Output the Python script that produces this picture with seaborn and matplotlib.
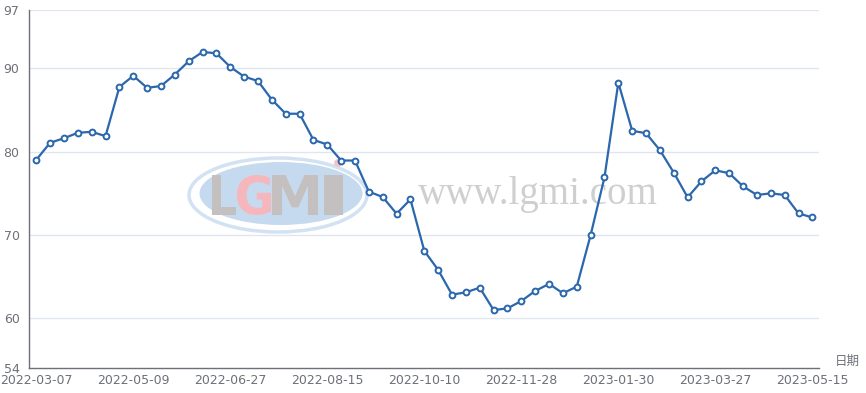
import matplotlib
matplotlib.use("Agg")
import matplotlib.pyplot as plt
from matplotlib.patches import Ellipse, PathPatch, Circle
from matplotlib.textpath import TextPath
from matplotlib.font_manager import FontProperties
from matplotlib.transforms import Affine2D, IdentityTransform
import seaborn as sns
import pandas as pd

values = [79.0, 81.05, 81.6, 82.25, 82.37, 81.85, 87.75, 89.1, 87.65, 87.87,
          89.25, 90.84, 91.96, 91.8, 90.16, 89.0, 88.47, 86.23, 84.54, 84.54,
          81.4, 80.84, 78.92, 78.92, 75.18, 74.54, 72.53, 74.25, 68.07, 65.78,
          62.81, 63.09, 63.65, 60.96, 61.16, 62.05, 63.25, 64.1, 62.98, 63.77,
          69.96, 76.9, 88.28, 82.49, 82.2, 80.16, 77.47, 74.5, 76.42, 77.75,
          77.39, 75.82, 74.78, 74.98, 74.78, 72.57, 72.08]
tick_labels = ["2022-03-07", "2022-05-09", "2022-06-27", "2022-08-15", "2022-10-10",
               "2022-11-28", "2023-01-30", "2023-03-27", "2023-05-15"]
tick_index = [0, 7, 14, 21, 28, 35, 42, 49, 56]
y_ticks = [54, 60, 70, 80, 90, 97]

df = pd.DataFrame({"idx": range(len(values)), "value": values})

sns.set_theme(style="white")
plt.rcParams['font.family'] = ['DejaVu Sans', 'Noto Sans CJK SC']

W, H = 866, 393
fig = plt.figure(figsize=(W / 100, H / 100), dpi=100)
left, right, top, bottom = 29.3, 819.3, 10, 368
ax = fig.add_axes([left / W, 1 - bottom / H, (right - left) / W, (bottom - top) / H])

axis_col = "#6e7079"
grid_col = "#e0e6f1"
line_col = "#2a67ad"

# ---- watermark (drawn under the line), pixel coordinates from top-left ----
def px(x, y):
    return x, H - y

ax.add_patch(Ellipse(px(281, 193.5), 163, 63, transform=IdentityTransform(),
                     facecolor="#c6daef", edgecolor="none", zorder=0.5, clip_on=False))
ax.add_patch(Ellipse(px(278, 195), 178, 74, transform=IdentityTransform(),
                     facecolor="none", edgecolor="#d3e2f2", lw=2.5, zorder=0.5, clip_on=False))
fp = FontProperties(family="DejaVu Sans", weight="bold")
letters = [("L", 212, 236, "#c4c0c0"), ("G", 237, 271, "#f5b7bb"),
           ("M", 272, 318, "#c4c0c0"), ("I", 324, 343, "#c4c0c0")]
for ch, x0, x1, col in letters:
    tp = TextPath((0, 0), ch, size=1, prop=fp)
    ext = tp.get_extents()
    sx = (x1 - x0) / ext.width
    sy = 40 / ext.height
    tr = Affine2D().translate(-ext.x0, -ext.y0).scale(sx, sy).translate(x0, H - 215)
    ax.add_patch(PathPatch(tr.transform_path(tp), transform=IdentityTransform(),
                           facecolor=col, edgecolor="none", zorder=0.6, clip_on=False))
ax.add_patch(Circle(px(338, 163), 4, transform=IdentityTransform(),
                    facecolor="#f5c4c7", edgecolor="none", zorder=0.6, clip_on=False))
ax.text(0.492, 0.485, "www.lgmi.com", transform=ax.transAxes, fontsize=28,
        color="#cfcfcf", family="Liberation Serif", ha="left", va="center", zorder=0.6)

# ---- data line ----
sns.lineplot(data=df, x="idx", y="value", ax=ax, color=line_col, lw=1.6,
             marker="o", markersize=4.2, markerfacecolor="white",
             markeredgecolor=line_col, markeredgewidth=1.4, zorder=3)

ax.set_xlim(-0.5, len(values) - 0.5)
ax.set_ylim(54, 97)

for y in y_ticks[1:]:
    ax.axhline(y, color=grid_col, lw=1, zorder=0)

ax.set_yticks(y_ticks)
ax.set_yticklabels([str(v) for v in y_ticks])
ax.set_xticks([i - 0.5 for i in tick_index])
ax.set_xticklabels([])
ax.set_xticks(tick_index, minor=True)
ax.set_xticklabels(tick_labels, minor=True)
ax.tick_params(axis="x", which="major", length=5, color=axis_col, width=1, direction="out")
ax.tick_params(axis="x", which="minor", length=0, pad=4, labelsize=9, labelcolor=axis_col)
ax.tick_params(axis="y", length=5, color=axis_col, width=1, direction="out",
               labelsize=9, labelcolor=axis_col, pad=2)

for s in ["top", "right"]:
    ax.spines[s].set_visible(False)
for s in ["left", "bottom"]:
    ax.spines[s].set_color(axis_col)
    ax.spines[s].set_linewidth(1)

ax.set_xlabel("")
ax.set_ylabel("")
ax.text(1.02, 0.0, "日期", transform=ax.transAxes, fontsize=9, color=axis_col,
        ha="left", va="bottom", family=["Noto Sans CJK SC", "DejaVu Sans"])

fig.savefig("out.png", dpi=100)
